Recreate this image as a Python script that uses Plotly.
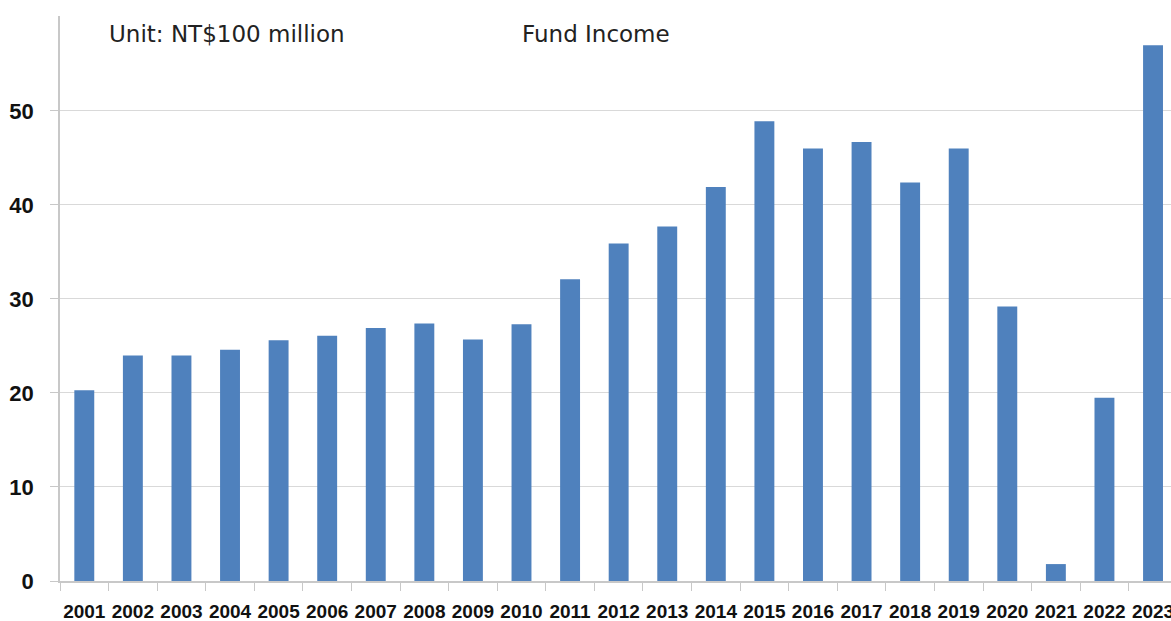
import plotly.graph_objects as go

years = [str(y) for y in range(2001, 2024)]
fund_income = [20.3, 24.0, 24.0, 24.6, 25.6, 26.1, 26.9, 27.4, 25.7, 27.3, 32.1, 35.9,
               37.7, 41.9, 48.9, 46.0, 46.7, 42.4, 46.0, 29.2, 1.8, 19.5, 57.0]
y_ticks = [0, 10, 20, 30, 40, 50]

x_font = dict(family="Liberation Sans Narrow, Liberation Sans, Arial", size=19, color="#111", weight="bold")
y_font = dict(family="Liberation Sans Narrow, Liberation Sans, Arial", size=22, color="#111", weight="bold")

fig = go.Figure(go.Bar(
    x=years, y=fund_income, width=0.41,
    marker=dict(color="#4f81bd", line=dict(width=0)),
))

L, R, T, B = 60, 0, 16, 40
W, H = 1171, 621
pw = W - L - R
ph = H - T - B

fig.update_layout(
    width=W, height=H,
    margin=dict(l=L, r=R, t=T, b=B, autoexpand=False),
    paper_bgcolor="white", plot_bgcolor="white",
    showlegend=False,
)
ann_font = dict(family="DejaVu Sans", size=23, color="#222")
fig.add_annotation(text="Unit: NT$100 million", xref="paper", yref="paper",
                   x=(107 - L) / pw, y=(H - B - 34) / ph, xanchor="left", yanchor="middle",
                   showarrow=False, font=ann_font)
fig.add_annotation(text="Fund Income", xref="paper", yref="paper",
                   x=(520 - L) / pw, y=(H - B - 34) / ph, xanchor="left", yanchor="middle",
                   showarrow=False, font=ann_font)

fig.update_xaxes(
    type="category", range=[-0.5, 22.37], tickangle=0, automargin=False,
    tickson="boundaries", ticks="outside", ticklen=8, tickcolor="#c8c8c8",
    showline=True, linecolor="#c8c8c8", linewidth=1.5,
    showgrid=False, tickfont=x_font, ticklabelstandoff=12,
)
fig.update_yaxes(
    range=[0, 60.1], tickvals=y_ticks, ticks="outside", ticklen=8, tickcolor="#c8c8c8",
    showline=True, linecolor="#c8c8c8", linewidth=1.5, automargin=False,
    showgrid=True, gridcolor="#d9d9d9", gridwidth=1,
    zeroline=False, tickfont=y_font, ticklabelstandoff=12,
)

fig.write_html("out.html")
